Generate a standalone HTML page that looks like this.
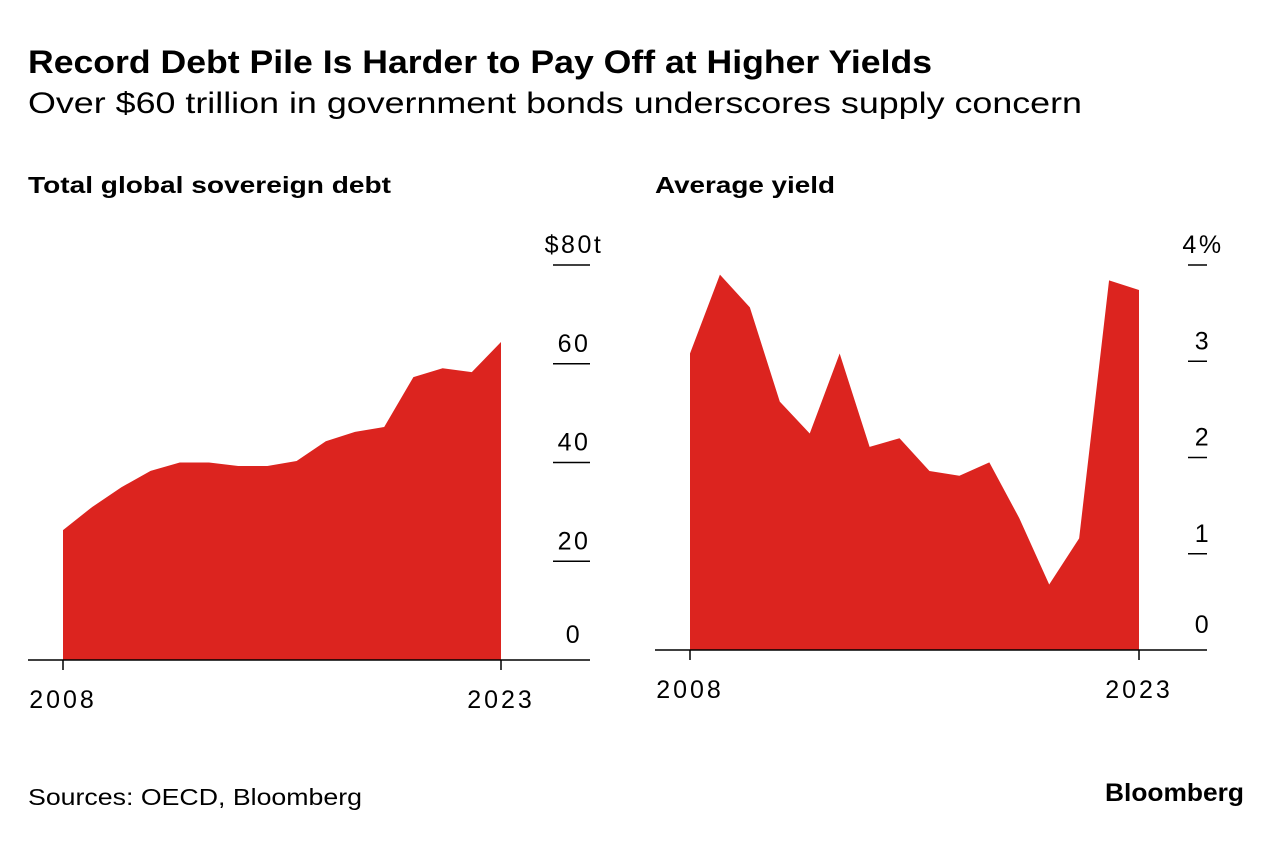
<!DOCTYPE html>
<html><head><meta charset="utf-8"><style>
body{margin:0;background:#fff;width:1283px;height:836px;overflow:hidden;font-family:"Liberation Sans",sans-serif;color:#000}
svg text{font-family:"Liberation Sans",sans-serif}
</style></head><body>
<svg width="1283" height="836">
<text x="28" y="73" font-size="32" font-weight="bold" textLength="904" lengthAdjust="spacingAndGlyphs">Record Debt Pile Is Harder to Pay Off at Higher Yields</text>
<text x="28" y="113" font-size="30" textLength="1054" lengthAdjust="spacingAndGlyphs">Over $60 trillion in government bonds underscores supply concern</text>
<text x="28" y="193" font-size="23" font-weight="bold" textLength="363" lengthAdjust="spacingAndGlyphs">Total global sovereign debt</text>
<text x="655" y="193" font-size="23" font-weight="bold" textLength="180" lengthAdjust="spacingAndGlyphs">Average yield</text>
<g id="left"></g>
<g id="right"></g>
<text x="28" y="805" font-size="23" textLength="334" lengthAdjust="spacingAndGlyphs">Sources: OECD, Bloomberg</text>
<text x="1105" y="801" font-size="25" font-weight="bold" textLength="139" lengthAdjust="spacingAndGlyphs">Bloomberg</text>
</svg>
<script>
const years=[2008,2009,2010,2011,2012,2013,2014,2015,2016,2017,2018,2019,2020,2021,2022,2023];
const debtValues=[26.3,31,35,38.3,40,40,39.3,39.3,40.3,44.3,46.2,47.2,57.3,59.1,58.3,64.4];
const debtTicks=[0,20,40,60,80];
const debtTickLabels=["0","20","40","60","$80t"];
const yieldValues=[3.08,3.9,3.56,2.58,2.25,3.08,2.11,2.2,1.86,1.81,1.95,1.37,0.68,1.16,3.84,3.74];
const yieldTicks=[0,1,2,3,4];
const yieldTickLabels=["0","1","2","3","4%"];
const NS="http://www.w3.org/2000/svg";
function mk(parent,tag,attrs){const e=document.createElementNS(NS,tag);for(const k in attrs)e.setAttribute(k,attrs[k]);parent.appendChild(e);return e;}
function panel(g,vals,ticks,labels,o,kind){
  const x=y=>o.x0+(y-years[0])/(years[years.length-1]-years[0])*(o.x1-o.x0);
  const yv=v=>o.y0-(v/ticks[ticks.length-1])*(o.y0-o.ytop);
  let d=`M${x(years[0])},${o.y0}`;
  vals.forEach((v,i)=>d+=` L${x(years[i])},${yv(v)}`);
  d+=` L${x(years[years.length-1])},${o.y0} Z`;
  const a=mk(g,'path',{d,fill:'#dc241f'});
  
  
  ticks.forEach((t,i)=>{
    const yy=yv(t);
    if(t>0){const l=mk(g,'line',{x1:o.tx0,x2:o.tx1,y1:yy,y2:yy,stroke:'#000','stroke-width':1.5});
      
      }
    const tx=mk(g,'text',{x:o.lx,y:yy-(t>0?12:17),'font-size':25,'text-anchor':'middle','letter-spacing':2.5});
    tx.textContent=labels[i];
    
    
  });
  const b=mk(g,'line',{x1:o.bx0,x2:o.tx1,y1:o.y0,y2:o.y0,stroke:'#000','stroke-width':1.5});
  
  
  [years[0],years[years.length-1]].forEach(yr=>{
    const t=mk(g,'line',{x1:x(yr),x2:x(yr),y1:o.y0,y2:o.y0+10,stroke:'#000','stroke-width':1.5});
    
    
    const tx=mk(g,'text',{x:x(yr),y:o.y0+48,'font-size':25,'text-anchor':'middle','letter-spacing':3});
    tx.textContent=yr;
    
    
  });
}
panel(document.getElementById('left'),debtValues,debtTicks,debtTickLabels,{x0:63,x1:501,y0:660,ytop:265,tx0:553,tx1:590,lx:574,bx0:28},'debt');
panel(document.getElementById('right'),yieldValues,yieldTicks,yieldTickLabels,{x0:690,x1:1139,y0:650,ytop:265,tx0:1188,tx1:1207,lx:1203,bx0:655},'yield');
</script>
</body></html>
